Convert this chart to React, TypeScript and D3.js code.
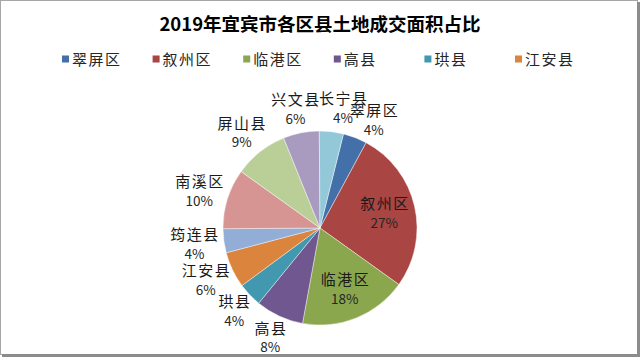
import React from "react";
import * as d3 from "d3";

const titleText = "2019年宜宾市各区县土地成交面积占比";
const names = ["翠屏区", "叙州区", "临港区", "高县", "珙县", "江安县", "筠连县", "南溪区", "屏山县", "兴文县", "长宁县"];
const values = [4, 27, 18, 8, 4, 6, 4, 10, 9, 6, 4];
const colors = ["#4370A9", "#A94542", "#8AA74E", "#71578F", "#4198AF", "#DB843D", "#93AED6", "#D69593", "#BACF98", "#A99BBF", "#92C8D8"];
const insideLabels = ["叙州区", "临港区"];
const legendCount = 6;

const W = 640;
const H = 357;
const cx = 320;
const cy = 228;
const R = 97;
const startDeg = 14;
const CJK = "'Noto Sans CJK SC', 'Noto Sans', sans-serif";
const nameSize = 15;
const nameSpacing = 1.5;

type Datum = { name: string; value: number; color: string };
type Lbl = { name: string; value: number; x: number; y: number; hw: number; inside: boolean; top: boolean };

export default function App() {
  const data: Datum[] = names.map((n, i) => ({ name: n, value: values[i], color: colors[i] }));
  const a0 = (startDeg * Math.PI) / 180;
  const pie = d3.pie<Datum>().sort(null).value((d) => d.value).startAngle(a0).endAngle(a0 + 2 * Math.PI);
  const arcs = pie(data);
  const arc = d3.arc<d3.PieArcDatum<Datum>>().innerRadius(0).outerRadius(R);

  const legendX = d3.scaleLinear().domain([0, legendCount - 1]).range([62, 515]);

  const labels: Lbl[] = arcs.map((a) => {
    const mid = (a.startAngle + a.endAngle) / 2;
    const sx = Math.sin(mid);
    const dy = -Math.cos(mid);
    const hw = (a.data.name.length * (nameSize + nameSpacing)) / 2;
    if (insideLabels.includes(a.data.name)) {
      const r = R * 0.68;
      return { name: a.data.name, value: a.data.value, x: cx + r * sx, y: cy + r * dy, hw, inside: true, top: false };
    }
    const halfH = 19;
    const r = R + 5;
    return {
      name: a.data.name,
      value: a.data.value,
      x: cx + r * sx + hw * sx,
      y: cy + r * dy + halfH * dy,
      hw,
      inside: false,
      top: dy < -0.7,
    };
  });

  // simple collision nudge for the crowded labels above the pie
  const topLabels = labels.filter((l) => !l.inside && l.top).sort((p, q) => p.x - q.x);
  for (let i = 1; i < topLabels.length; i++) {
    const prev = topLabels[i - 1];
    const cur = topLabels[i];
    const overlap = prev.x + prev.hw - (cur.x - cur.hw);
    if (overlap > 0) {
      cur.x += Math.min(overlap, 8);
      cur.y += Math.min(5, Math.max(0, (overlap - 8) * 0.3));
    }
  }

  return (
    <svg width={W} height={H} style={{ position: "absolute", left: 0, top: 0, background: "#fff" }}>
      <rect x={0} y={0} width={W} height={H} fill="#fff" />
      <rect x={0.5} y={0.5} width={W - 3} height={H - 3} fill="none" stroke="#a6a6a6" strokeWidth={1} />
      <line x1={W - 1.5} y1={2} x2={W - 1.5} y2={H} stroke="#8c8c8c" strokeWidth={3} />
      <line x1={2} y1={H - 1.5} x2={W} y2={H - 1.5} stroke="#8c8c8c" strokeWidth={3} />

      <text x={cx} y={31} textAnchor="middle" fontFamily={CJK} fontWeight="bold" fontSize={18.5} fill="#000">
        {titleText}
      </text>

      {names.slice(0, legendCount).map((n, i) => (
        <g key={n}>
          <rect x={legendX(i)} y={55.5} width={7} height={7} fill={colors[i]} />
          <text x={legendX(i) + 10} y={64.5} fontFamily={CJK} fontSize={nameSize} letterSpacing={nameSpacing} fill="#262626">
            {n}
          </text>
        </g>
      ))}

      <g>
        {arcs.map((a) => (
          <path
            key={a.data.name}
            d={arc(a) || ""}
            transform={`translate(${cx},${cy})`}
            fill={a.data.color}
            stroke="#ffffff"
            strokeWidth={0.6}
            strokeOpacity={0.7}
          />
        ))}
      </g>

      {labels.map((l) => (
        <g key={"l" + l.name}>
          <text
            x={l.x + nameSpacing / 2}
            y={l.y - 4}
            textAnchor="middle"
            fontFamily={CJK}
            fontSize={nameSize}
            letterSpacing={nameSpacing}
            fill="#1a1a1a"
          >
            {l.name}
          </text>
          <text x={l.x} y={l.y + 14.5} textAnchor="middle" fontFamily={CJK} fontSize={13.5} fill="#262626">
            {`${l.value}%`}
          </text>
        </g>
      ))}
    </svg>
  );
}
